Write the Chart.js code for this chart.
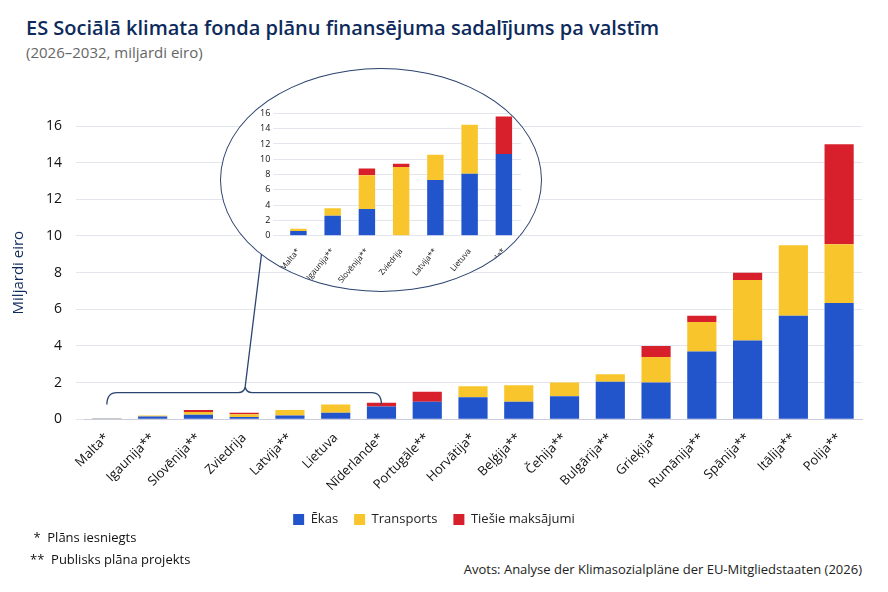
<!DOCTYPE html>
<html><head><meta charset="utf-8">
<script src="https://cdn.jsdelivr.net/npm/chart.js@4/dist/chart.umd.min.js"></script>
<style>
body{margin:0;width:888px;height:592px;background:#fff;font-family:"Open Sans",sans-serif;position:relative;overflow:hidden}
#t{position:absolute;left:26px;top:14px;font-size:20px;font-weight:600;color:#0d2a5c}
#s{position:absolute;left:26px;top:42px;font-size:15px;color:#666}
#main{position:absolute;left:0;top:100px;width:888px;height:436px}
#ell{position:absolute;left:220px;top:68px;width:320px;height:222px;border:1.5px solid #2c4470;border-radius:50%;background:#fff;overflow:hidden}
#inset{position:absolute;left:36px;top:36px;width:264px;height:186px}
.n{position:absolute;left:30px;font-size:13px;color:#111}
#src{position:absolute;right:26px;top:560px;font-size:13px;color:#222}
</style></head><body>
<div id="t">ES Sociālā klimata fonda plānu finansējuma sadalījums pa valstīm</div>
<div id="s">(2026–2032, miljardi eiro)</div>
<div id="main"><canvas id="c"></canvas></div>
<div id="ell"><div id="inset"><canvas id="c2"></canvas></div></div>
<div class="n" style="top:528px">&nbsp;* &nbsp;Plāns iesniegts</div>
<div class="n" style="top:550px">** &nbsp;Publisks plāna projekts</div>
<div id="src">Avots: Analyse der Klimasozialpläne der EU-Mitgliedstaaten (2026)</div>
<script>
const countries=["Malta*","Igaunija**","Slovēnija**","Zviedrija","Latvija**","Lietuva","Nīderlande*","Portugāle**","Horvātija*","Beļģija**","Čehija**","Bulgārija**","Grieķija*","Rumānija**","Spānija**","Itālija**","Polija**"];
const ekas=[0.04,0.15,0.25,0.12,0.2,0.35,0.7,0.95,1.2,0.95,1.25,2.05,2.0,3.7,4.3,5.65,6.35];
const transports=[0.02,0.06,0.15,0.15,0.3,0.45,0,0,0.6,0.9,0.75,0.4,1.4,1.6,3.3,3.85,3.2];
const tiesie=[0,0,0.1,0.08,0,0,0.2,0.55,0,0,0,0,0.6,0.35,0.4,0,5.45];
const insetCountries=["Malta*","Igaunija**","Slovēnija**","Zviedrija","Latvija**","Lietuva","Nīderlande*"];
const insetEkas=[0.6,2.6,3.5,0,7.3,8.1,10.7];
const insetTransports=[0.3,1.0,4.4,9.0,3.3,6.4,0];
const insetTiesie=[0,0,0.9,0.4,0,0,4.9];
const cBlue="#2255cc",cYel="#f8c62c",cRed="#d8202c";
Chart.defaults.font.family='"Open Sans",sans-serif';
Chart.defaults.color="#222";
const bracket={id:"br",afterDraw(ch){
  const x=ch.scales.x,y=ch.scales.y,g=ch.ctx;
  const x0=x.getPixelForValue(0),x1=x.getPixelForValue(6),yy=y.getPixelForValue(2)+10;
  const xm=(x0+x1)/2;
  g.save();g.strokeStyle="#2c4470";g.lineWidth=1.3;g.beginPath();
  g.moveTo(x0,yy+12);g.quadraticCurveTo(x0,yy,x0+10,yy);g.lineTo(xm-6,yy);g.quadraticCurveTo(xm,yy,xm+1,yy-6);
  g.moveTo(xm+1,yy-6);g.quadraticCurveTo(xm+2,yy,xm+8,yy);g.lineTo(x1-10,yy);g.quadraticCurveTo(x1,yy,x1,yy+12);
  g.moveTo(xm+1,yy-6);g.lineTo(262,150);g.stroke();g.restore();}};
function ds(a,b,c){return [
 {label:"Ēkas",data:a,backgroundColor:cBlue},
 {label:"Transports",data:b,backgroundColor:cYel},
 {label:"Tiešie maksājumi",data:c,backgroundColor:cRed}];}
new Chart(document.getElementById("c"),{type:"bar",
 data:{labels:countries,datasets:ds(ekas,transports,tiesie)},
 options:{responsive:true,maintainAspectRatio:false,animation:false,
  layout:{padding:{left:6,right:26,top:26}},
  datasets:{bar:{categoryPercentage:0.75,barPercentage:0.85}},
  plugins:{legend:{position:"bottom",labels:{boxWidth:11,boxHeight:11,font:{size:13},padding:16}},tooltip:{enabled:false}},
  scales:{x:{stacked:true,grid:{display:false},border:{color:"#ccd"},ticks:{maxRotation:45,minRotation:45,font:{size:13},color:"#111"}},
   y:{stacked:true,min:0,max:16,ticks:{stepSize:2,font:{size:14},color:"#111",padding:14},grid:{color:"#e4e6ee"},border:{display:false},
    title:{display:true,text:"Miljardi eiro",font:{size:15},color:"#0d2a5c"}}}}, plugins:[bracket]});
new Chart(document.getElementById("c2"),{type:"bar",
 data:{labels:insetCountries,datasets:ds(insetEkas,insetTransports,insetTiesie)},
 options:{responsive:true,maintainAspectRatio:false,animation:false,
  layout:{padding:{top:8}},
  datasets:{bar:{categoryPercentage:0.8,barPercentage:0.6}},
  plugins:{legend:{display:false},tooltip:{enabled:false}},
  scales:{x:{stacked:true,grid:{display:false},border:{display:false},ticks:{maxRotation:50,minRotation:50,font:{size:8},color:"#111"}},
   y:{stacked:true,min:0,max:16,ticks:{stepSize:2,font:{size:9},color:"#111"},grid:{color:"#e4e6ee"},border:{display:false}}}}});
</script></body></html>
